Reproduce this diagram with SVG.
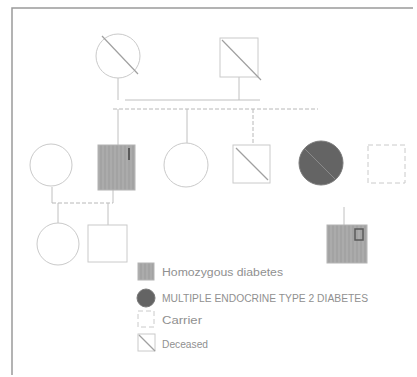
<svg xmlns="http://www.w3.org/2000/svg" width="417" height="377" viewBox="0 0 417 377">
<defs>
<pattern id="stripe" width="4" height="4" patternUnits="userSpaceOnUse">
<rect width="4" height="4" fill="#ababab"/>
<line x1="1" y1="0" x2="1" y2="4" stroke="#9c9c9c" stroke-width="1"/>
</pattern>
<style>
.ln{stroke:#c0c0c0;stroke-width:1;fill:none}
.dl{stroke:#b8b8b8;stroke-width:1;fill:none;stroke-dasharray:4 2}
.sym{stroke:#cacaca;stroke-width:1;fill:#fff}
.dsym{stroke:#cacaca;stroke-width:1;fill:#fff;stroke-dasharray:5 3}
.aff{stroke:#b4b4b4;stroke-width:1;fill:url(#stripe)}
.dark{stroke:#7a7a7a;stroke-width:1;fill:#646464}
.diag{stroke:#a0a0a0;stroke-width:1.2}
.lg{font-family:"Liberation Sans",Arial,sans-serif;font-size:10px;fill:#909090}
</style>
</defs>
<rect width="417" height="377" fill="#fff"/>
<path d="M12 375 V8 H413" stroke="#9a9a9a" stroke-width="1.5" fill="none"/>

<g id="connectors">
<line class="ln" x1="118" y1="78" x2="118" y2="100"/>
<line class="ln" x1="239" y1="77" x2="239" y2="100"/>
<line class="ln" x1="125" y1="100" x2="260" y2="100"/>
<line class="dl" x1="113" y1="109" x2="318" y2="109"/>
<line class="ln" x1="118" y1="109" x2="118" y2="145"/>
<line class="ln" x1="187" y1="109" x2="187" y2="143"/>
<line class="dl" x1="253" y1="109" x2="253" y2="143"/>
<line class="ln" x1="52" y1="187" x2="52" y2="203"/>
<line class="ln" x1="113" y1="190" x2="113" y2="203"/>
<line class="dl" x1="52" y1="203" x2="113" y2="203"/>
<line class="ln" x1="58" y1="203" x2="58" y2="223"/>
<line class="ln" x1="108" y1="203" x2="108" y2="225"/>
<line class="ln" x1="344" y1="207" x2="344" y2="225"/>
</g>

<g id="grandmother">
<circle class="sym" cx="118" cy="56" r="22"/>
<line class="diag" x1="102" y1="36" x2="138" y2="74"/>
</g>
<g id="grandfather">
<rect class="sym" x="220" y="38" width="38" height="39"/>
<line class="diag" x1="222" y1="40" x2="261" y2="80"/>
</g>

<g id="spouse1">
<circle class="sym" cx="51" cy="165" r="21"/>
</g>
<g id="son1">
<rect class="aff" x="98" y="145" width="37" height="45"/>
<line x1="129" y1="148" x2="129" y2="160" stroke="#5a5a5a" stroke-width="2"/>
</g>
<g id="daughter1">
<circle class="sym" cx="186" cy="165" r="22"/>
</g>
<g id="son2">
<rect class="sym" x="233" y="145" width="37" height="38"/>
<line class="diag" x1="236" y1="148" x2="268" y2="180"/>
</g>
<g id="daughter2">
<circle class="dark" cx="321" cy="163" r="22"/>
<line x1="304" y1="148" x2="336" y2="180" stroke="#8a8a8a" stroke-width="1"/>
</g>
<g id="spouse2">
<rect class="dsym" x="368" y="145" width="37" height="38"/>
</g>

<g id="grandchild1">
<circle class="sym" cx="58" cy="244" r="21"/>
</g>
<g id="grandchild2">
<rect class="sym" x="88" y="225" width="39" height="37"/>
</g>
<g id="grandchild3">
<rect class="aff" x="327" y="225" width="40" height="38"/>
<rect x="355" y="229" width="8" height="11" fill="none" stroke="#5a5a5a" stroke-width="1.5"/>
</g>

<g id="legend1">
<rect class="aff" x="138" y="263" width="16" height="17"/>
<text class="lg" x="162" y="276" textLength="121" lengthAdjust="spacingAndGlyphs">Homozygous diabetes</text>
</g>
<g id="legend2">
<circle class="dark" cx="146" cy="298" r="9"/>
<text class="lg" x="162" y="302" textLength="206" lengthAdjust="spacingAndGlyphs">MULTIPLE ENDOCRINE TYPE 2 DIABETES</text>
</g>
<g id="legend3">
<rect class="dsym" x="138" y="311" width="16" height="16"/>
<text class="lg" x="162" y="324" textLength="40" lengthAdjust="spacingAndGlyphs">Carrier</text>
</g>
<g id="legend4">
<rect class="sym" x="138" y="334" width="17" height="17"/>
<line class="diag" x1="139" y1="335" x2="155" y2="351"/>
<text class="lg" x="162" y="348" textLength="46" lengthAdjust="spacingAndGlyphs">Deceased</text>
</g>
</svg>
